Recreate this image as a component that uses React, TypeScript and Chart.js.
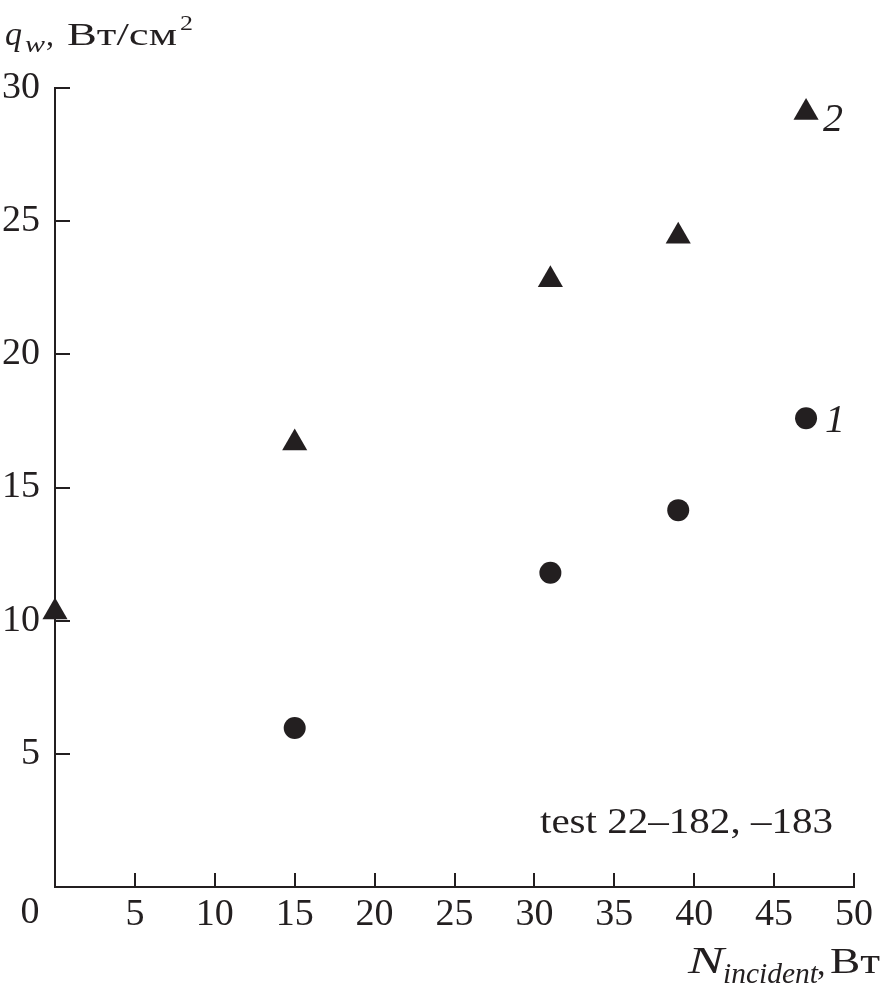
import React, { useEffect, useRef } from "react";
import { Chart, registerables } from "chart.js";

Chart.register(...registerables);

const xTicks = [0, 5, 10, 15, 20, 25, 30, 35, 40, 45, 50];
const yTicks = [0, 5, 10, 15, 20, 25, 30];
const xCircles = [15, 31, 39, 47];
const yCircles = [5.97, 11.8, 14.15, 17.6];
const xTriangles = [0, 15, 31, 39, 47];
const yTriangles = [10.33, 16.67, 22.8, 24.43, 29.08];
const seriesLabels = ["1", "2"];
const note = "test 22\u2013182, \u2013183";

const INK = "#231f20";
const SERIF = "'Liberation Serif', 'Times New Roman', serif";

// draw text starting at x (left), baseline y, optionally stretched to width
function txt(ctx: any, s: string, x: number, y: number, font: string, width?: number) {
  ctx.save();
  ctx.font = font;
  ctx.textAlign = "left";
  ctx.textBaseline = "alphabetic";
  const w = ctx.measureText(s).width;
  const sx = width ? width / w : 1;
  ctx.translate(x, y);
  ctx.scale(sx, 1);
  ctx.fillText(s, 0, 0);
  ctx.restore();
  return w * sx;
}

const overlay = {
  id: "overlay",
  afterDraw(chart: any) {
    const ctx = chart.ctx;
    const xs = chart.scales.x;
    const ys = chart.scales.y;
    const area = chart.chartArea;
    ctx.save();
    ctx.strokeStyle = INK;
    ctx.lineWidth = 2;
    // inward ticks
    xTicks.forEach((v) => {
      if (v === 0) return;
      const px = Math.round(xs.getPixelForValue(v));
      ctx.beginPath();
      ctx.moveTo(px, area.bottom);
      ctx.lineTo(px, area.bottom - 14);
      ctx.stroke();
    });
    yTicks.forEach((v) => {
      if (v === 0) return;
      const py = Math.round(ys.getPixelForValue(v));
      ctx.beginPath();
      ctx.moveTo(area.left, py);
      ctx.lineTo(area.left + 15, py);
      ctx.stroke();
    });

    ctx.fillStyle = INK;
    // corner zero
    ctx.font = `38px ${SERIF}`;
    ctx.textAlign = "center";
    ctx.textBaseline = "middle";
    ctx.fillText("0", 30, 913);

    // series labels
    const m0 = chart.getDatasetMeta(0).data;
    const m1 = chart.getDatasetMeta(1).data;
    const pc = m0[m0.length - 1];
    const pt = m1[m1.length - 1];
    txt(ctx, seriesLabels[0], pc.x + 19, pc.y + 14, `italic 40px ${SERIF}`);
    txt(ctx, seriesLabels[1], pt.x + 17, pt.y + 18, `italic 40px ${SERIF}`);

    // note
    txt(ctx, note, 540, 833, `35px ${SERIF}`, 293);

    // y title: q_w, Вт/см²
    txt(ctx, "q", 5, 45, `italic 34px ${SERIF}`);
    txt(ctx, "w", 25, 52, `italic 24px ${SERIF}`, 20);
    txt(ctx, ",", 46, 45, `32px ${SERIF}`);
    txt(ctx, "\u0412\u0442/\u0441\u043c", 67, 45, `32px ${SERIF}`, 110);
    txt(ctx, "2", 180, 30, `22px ${SERIF}`, 13);

    // x title: N_incident, Вт
    txt(ctx, "N", 688, 973, `italic 37px ${SERIF}`, 36);
    txt(ctx, "incident", 723, 983, `italic 30px ${SERIF}`, 95);
    txt(ctx, ",", 817, 975, `34px ${SERIF}`);
    txt(ctx, "\u0412\u0442", 830, 973, `35px ${SERIF}`, 50);
    ctx.restore();
  },
};

export default function App() {
  const ref = useRef<HTMLCanvasElement | null>(null);
  useEffect(() => {
    if (!ref.current) return;
    const chart = new Chart(ref.current, {
      type: "scatter",
      data: {
        datasets: [
          {
            label: seriesLabels[0],
            data: xCircles.map((x, i) => ({ x, y: yCircles[i] })),
            pointStyle: "circle",
            pointRadius: 11,
            pointHoverRadius: 11,
            backgroundColor: INK,
            borderColor: INK,
            borderWidth: 0,
            clip: false,
          },
          {
            label: seriesLabels[1],
            data: xTriangles.map((x, i) => ({ x, y: yTriangles[i] })),
            pointStyle: "triangle",
            pointRadius: 14.5,
            pointHoverRadius: 14.5,
            backgroundColor: INK,
            borderColor: INK,
            borderWidth: 0,
            clip: false,
          },
        ],
      },
      options: {
        responsive: false,
        animation: false,
        events: [],
        layout: { padding: { left: 0, top: 88, right: 26, bottom: 0 } },
        plugins: { legend: { display: false }, tooltip: { enabled: false } },
        scales: {
          x: {
            type: "linear",
            min: 0,
            max: 50,
            afterFit: (s: any) => {
              s.height = 112;
            },
            afterBuildTicks: (s: any) => {
              s.ticks = xTicks.map((v) => ({ value: v }));
            },
            ticks: {
              callback: (v: any) => (v === 0 ? "" : String(v)),
              font: { family: SERIF, size: 38 },
              color: INK,
              padding: 5,
              maxRotation: 0,
              autoSkip: false,
            },
            grid: { display: false, drawTicks: false },
            border: { display: true, color: INK, width: 2 },
          },
          y: {
            type: "linear",
            min: 0,
            max: 30,
            afterFit: (s: any) => {
              s.width = 55;
            },
            afterBuildTicks: (s: any) => {
              s.ticks = yTicks.map((v) => ({ value: v }));
            },
            ticks: {
              callback: (v: any) => (v === 0 ? "" : String(v)),
              font: { family: SERIF, size: 38 },
              color: INK,
              padding: 15,
              autoSkip: false,
            },
            grid: { display: false, drawTicks: false },
            border: { display: true, color: INK, width: 2 },
          },
        },
      },
      plugins: [overlay],
    });
    return () => chart.destroy();
  }, []);
  return (
    <div style={{ position: "fixed", left: 0, top: 0, width: 880, height: 999, background: "#fff" }}>
      <canvas ref={ref} width={880} height={999} style={{ width: 880, height: 999, display: "block" }} />
    </div>
  );
}
